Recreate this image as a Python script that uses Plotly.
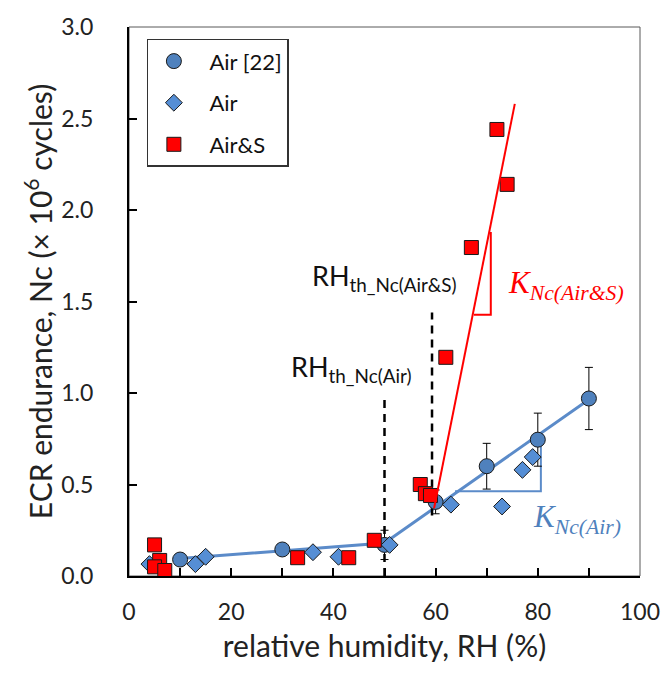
import plotly.graph_objects as go

# ---- data ----
air22_x = [10, 30, 50, 60, 70, 80, 90]
air22_y = [0.09, 0.145, 0.17, 0.405, 0.60, 0.745, 0.97]
air22_err = [0, 0, 0.08, 0.065, 0.125, 0.145, 0.17]

air_x = [4, 13, 15, 36, 41, 51, 63, 73, 77, 79]
air_y = [0.065, 0.065, 0.105, 0.13, 0.105, 0.17, 0.39, 0.38, 0.58, 0.65]

airs_x = [5, 6, 5, 7, 33, 43, 48, 57, 58, 59, 62, 67, 72, 74]
airs_y = [0.17, 0.085, 0.05, 0.03, 0.10, 0.10, 0.195, 0.50, 0.45, 0.44, 1.195, 1.795, 2.44, 2.14]

air_fit_x = [10, 50, 90]
air_fit_y = [0.095, 0.18, 0.965]
airs_fit_x = [59.7, 75.5]
airs_fit_y = [0.37, 2.58]

air_tri_x = [63.8, 80.6, 80.6]
air_tri_y = [0.463, 0.463, 0.78]
airs_tri_x = [70.8, 70.8, 67.5]
airs_tri_y = [1.88, 1.427, 1.427]

rh_th_air_x = [50, 50]
rh_th_air_y = [0, 0.97]
rh_th_airs_x = [59.3, 59.3]
rh_th_airs_y = [0.33, 1.44]

x_ticks = [0, 20, 40, 60, 80, 100]
y_ticks = [0, 0.5, 1.0, 1.5, 2.0, 2.5, 3.0]

BLUE_LINE = "#5B8BC9"
CIRCLE = "#4F81BD"
DIAMOND = "#558ED5"
RED = "#FF0000"
FONT = "Lato"

fig = go.Figure()

fig.add_trace(go.Scatter(x=air_fit_x, y=air_fit_y, mode="lines",
                         line=dict(color=BLUE_LINE, width=3), showlegend=False, hoverinfo="skip"))
fig.add_trace(go.Scatter(x=air_tri_x, y=air_tri_y, mode="lines",
                         line=dict(color=BLUE_LINE, width=2), showlegend=False, hoverinfo="skip"))
fig.add_trace(go.Scatter(x=rh_th_air_x, y=rh_th_air_y, mode="lines",
                         line=dict(color="black", width=2.5, dash="8px,6px"), showlegend=False, hoverinfo="skip"))
fig.add_trace(go.Scatter(x=rh_th_airs_x, y=rh_th_airs_y, mode="lines",
                         line=dict(color="black", width=2.5, dash="8px,6px"), showlegend=False, hoverinfo="skip"))

fig.add_trace(go.Scatter(x=air22_x, y=air22_y, mode="markers", name="Air [22]", legendgroup="a",
                         marker=dict(symbol="circle", size=15, color=CIRCLE,
                                     line=dict(color="#1a1a1a", width=1)),
                         error_y=dict(type="data", array=air22_err, visible=True,
                                      color="black", thickness=1, width=4)))
fig.add_trace(go.Scatter(x=air_x, y=air_y, mode="markers", name="Air", legendgroup="b",
                         marker=dict(symbol="diamond", size=13, color=DIAMOND,
                                     line=dict(color="#1a1a1a", width=1))))
fig.add_trace(go.Scatter(x=airs_x, y=airs_y, mode="markers", name="Air&S", legendgroup="c",
                         marker=dict(symbol="square", size=14, color=RED,
                                     line=dict(color="#1a1a1a", width=1))))

fig.add_trace(go.Scatter(x=airs_fit_x, y=airs_fit_y, mode="lines",
                         line=dict(color=RED, width=2), showlegend=False, hoverinfo="skip"))
fig.add_trace(go.Scatter(x=airs_tri_x, y=airs_tri_y, mode="lines",
                         line=dict(color=RED, width=2), showlegend=False, hoverinfo="skip"))

# annotations
fig.add_annotation(x=50.0, y=1.52, xref="x", yref="y", xanchor="center", yanchor="bottom",
                   text="RH<sub>th_Nc(Air&S)</sub>", showarrow=False,
                   font=dict(family=FONT, size=27, color="#111"))
fig.add_annotation(x=43.6, y=1.02, xref="x", yref="y", xanchor="center", yanchor="bottom",
                   text="RH<sub>th_Nc(Air)</sub>", showarrow=False,
                   font=dict(family=FONT, size=27, color="#111"))
fig.add_annotation(x=85.6, y=1.59, xref="x", yref="y", xanchor="center", yanchor="middle",
                   text="<i>K</i><sub><i>Nc(Air&S)</i></sub>", showarrow=False,
                   font=dict(family="Liberation Serif", size=31, color=RED))
fig.add_annotation(x=87.6, y=0.31, xref="x", yref="y", xanchor="center", yanchor="middle",
                   text="<i>K</i><sub><i>Nc(Air)</i></sub>", showarrow=False,
                   font=dict(family="Liberation Serif", size=31, color=CIRCLE))

# plot-area border
fig.add_shape(type="rect", xref="paper", yref="paper", x0=0, x1=1, y0=0, y1=1,
              line=dict(color="#595959", width=1), fillcolor="rgba(0,0,0,0)", layer="below")

fig.update_layout(
    width=672, height=674,
    margin=dict(l=129, r=26, t=19, b=98),
    paper_bgcolor="white", plot_bgcolor="white",
    font=dict(family=FONT, color="#222"),
    showlegend=True,
    legend=dict(x=0.035, y=0.9785, xanchor="left", yanchor="top",
                bordercolor="#333", borderwidth=1.5, bgcolor="white",
                font=dict(family=FONT, size=22, color="#111"),
                tracegroupgap=10, itemsizing="trace", itemwidth=61, indentation=-10),
    xaxis=dict(range=[0, 100], tickvals=x_ticks, ticks="inside", ticklen=8, tickwidth=1.5,
               tickcolor="black", showline=True, linecolor="black", linewidth=2,
               showgrid=False, zeroline=False, ticklabelstandoff=14,
               minor=dict(dtick=10, ticks="inside", ticklen=8, tickwidth=1.5, tickcolor="black"),
               tickfont=dict(family=FONT, size=23, color="#222"),
               title=dict(text="relative humidity, RH (%)", standoff=12,
                          font=dict(family=FONT, size=30, color="#222"))),
    yaxis=dict(range=[0, 3.0], tickvals=y_ticks, tickformat=".1f", ticks="inside", ticklen=8,
               tickwidth=1.5, tickcolor="black", showline=True, linecolor="black", linewidth=2,
               showgrid=False, zeroline=False, ticklabelstandoff=29,
               tickfont=dict(family=FONT, size=23, color="#222"),
               title=dict(text="ECR endurance, Nc (× 10<sup>6</sup> cycles)", standoff=0,
                          font=dict(family=FONT, size=30, color="#222"))),
)

fig.write_html("out.html")
